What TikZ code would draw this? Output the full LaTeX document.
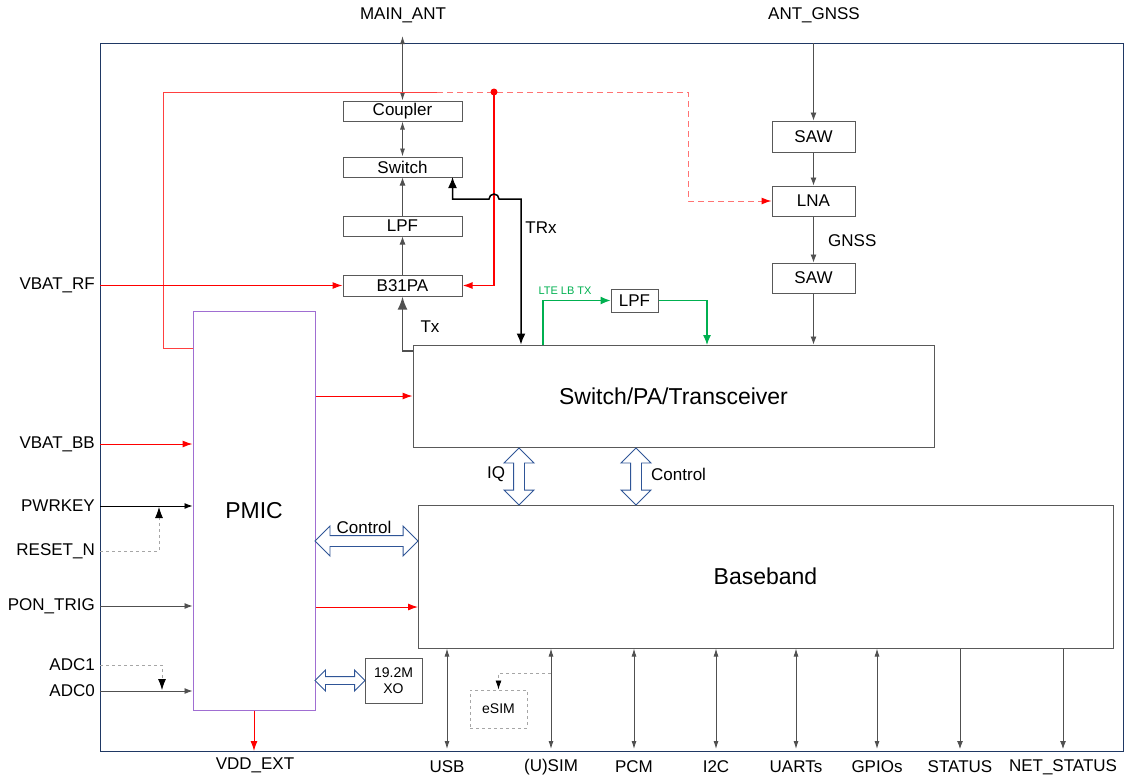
\documentclass[tikz,border=0pt]{standalone}
\usepackage{fontspec}
\setmainfont{Liberation Sans}
\usetikzlibrary{arrows.meta}
\usetikzlibrary{shapes.arrows}

\definecolor{framebl}{RGB}{31,56,100}
\definecolor{boxgray}{RGB}{89,89,89}
\definecolor{linegray}{RGB}{80,80,80}
\definecolor{pmicpurple}{RGB}{160,110,210}
\definecolor{busblue}{RGB}{47,85,151}
\definecolor{pwrred}{RGB}{255,0,0}
\definecolor{ltegreen}{RGB}{0,176,80}

\newcommand{\lblfont}{\fontsize{17}{20}\selectfont}
\newcommand{\bigfont}{\fontsize{23}{27}\selectfont}

\begin{document}
\begin{tikzpicture}[x=1pt,y=-1pt,
  blk/.style={draw=boxgray, fill=white, line width=1pt, inner sep=0pt, font=\lblfont},
  pinlbl/.style={font=\lblfont, inner sep=2pt},
  sig/.style={draw=linegray, line width=0.9pt, -{Latex[length=8pt,width=6pt]}},
  dbl/.style={draw=linegray, line width=0.9pt, {Latex[length=8pt,width=5pt]}-{Latex[length=8pt,width=5pt]}},
  sigdash/.style={draw=gray!70, line width=0.8pt, dashed, -{Latex[length=9pt,width=6pt,color=black]}},
  pwr/.style={draw=pwrred, line width=1pt, -{Latex[length=10pt,width=7pt]}},
  busarrow/.style={double arrow, draw=busblue, fill=white, line width=0.9pt,
    inner xsep=0pt, inner ysep=5pt, double arrow head extend=9.5pt, minimum width=0pt},
  smallbus/.style={busarrow, inner ysep=3.5pt, double arrow head extend=6.5pt}]

  \useasboundingbox (0,0) rectangle (1126,780);

  % module outline
  \draw[framebl, line width=1pt] (100,43) rectangle (1123,751);

  % --- main antenna chain ---
  \node[blk, minimum width=119, minimum height=20] (coupler) at (402.5,111) {Coupler};
  \node[blk, minimum width=119, minimum height=20] (switch) at (402.5,167) {Switch};
  \node[blk, minimum width=119, minimum height=20] (lpf) at (402.5,226) {LPF};
  \node[blk, minimum width=119, minimum height=21] (pa) at (402.5,285.5) {B31PA};

  \coordinate (mainant) at (402.5,36);
  \node[pinlbl] at (403,15) {MAIN\_ANT};
  \draw[dbl] (mainant) -- (coupler.north);
  \draw[dbl] (coupler.south) -- (switch.north);
  \draw[sig] (lpf.north) -- (switch.south);
  \draw[sig] (pa.north) -- (lpf.south);

  % --- GNSS chain ---
  \node[blk, minimum width=83, minimum height=31] (saw1) at (813.5,136.5) {SAW};
  \node[blk, minimum width=83, minimum height=30] (lna) at (813.5,201) {LNA};
  \node[blk, minimum width=83, minimum height=30] (saw2) at (813.5,278) {SAW};

  \coordinate (antgnss) at (813.5,43);
  \node[pinlbl] at (814,15) {ANT\_GNSS};
  \draw[sig] (antgnss) -- (saw1.north);
  \draw[sig] (saw1.south) -- (lna.north);
  \draw[sig] (lna.south) -- (saw2.north);
  \node[pinlbl, anchor=west] at (826,241) {GNSS};

  % --- transceiver, baseband, PMIC ---
  \node[blk, minimum width=521, minimum height=102, font=\bigfont] (trx) at (673.5,396) {Switch/PA/Transceiver};
  \node[blk, minimum width=695, minimum height=143, font=\bigfont] (bb) at (765.5,576.5) {Baseband};
  \node[blk, draw=pmicpurple, minimum width=122, minimum height=399, font=\bigfont] (pmic) at (254,510.5) {PMIC};
  \node[blk, minimum width=57, minimum height=45, font=\fontsize{14}{16}\selectfont, align=center] (xo) at (393.5,680.5) {19.2M\\XO};
  \node[blk, draw=gray!70, dashed, minimum width=57, minimum height=38, font=\fontsize{14}{16}\selectfont] (esim) at (498.5,709) {eSIM};

  \draw[sig] (saw2.south) -- (saw2.south |- trx.north);

  % LTE low band path
  \node[blk, minimum width=47, minimum height=23] (lpftx) at (634.5,300.5) {LPF};
  \coordinate (lteout) at (543,345);
  \coordinate (ltein) at (707,345);
  \draw[draw=ltegreen, line width=1.2pt, -{Latex[length=10pt,width=8pt]}] (lteout) |- (lpftx.west);
  \draw[draw=ltegreen, line width=1.2pt, -{Latex[length=10pt,width=8pt]}] (lpftx.east) -| (ltein);
  \node[font=\fontsize{11}{13}\selectfont, text=ltegreen] at (565,291) {LTE LB TX};

  % --- RF power / coupler feedback (red) ---
  \coordinate (pmicfb) at (193,348);
  \coordinate (fbleft) at (163,92);
  \coordinate (fbsplit) at (437,92);
  \coordinate (rfnode) at (494,92);
  \coordinate (fbturn) at (688,92);
  \draw[draw=pwrred!75, line width=1pt] (pmicfb) -| (fbleft) -- (fbsplit);
  \draw[draw=pwrred!55, line width=1pt, dash pattern=on 6pt off 4pt, -{Latex[length=10pt,width=7pt,color=pwrred]}]
    (fbsplit) -- (fbturn) |- (lna.west);
  \draw[pwr, line width=1.5pt] (rfnode) |- (pa.east);
  \fill[pwrred] (rfnode) circle (3.5);

  \coordinate (vbatrf) at (100,285.5);
  \node[pinlbl, anchor=east] at (97,285) {VBAT\_RF};
  \draw[pwr] (vbatrf) -- (pa.west);

  % TRx and Tx paths
  \coordinate (trxbend) at (521,199);
  \draw[draw=black, line width=1.5pt, {Latex[length=11pt,width=9pt]}-{Latex[length=11pt,width=9pt]}]
    (452.5,177) |- (489,199) arc[start angle=180, end angle=360, radius=5] -- (trxbend) -- (trxbend |- trx.north);
  \node[pinlbl] at (541,228) {TRx};
  \coordinate (txout) at (413,351);
  \draw[draw=linegray, line width=1.8pt, -{Latex[length=13pt,width=10pt]}] (txout) -| (pa.south);
  \node[pinlbl] at (430,327) {Tx};

  % PMIC supplies
  \draw[pwr] (pmic.east |- trx.west) -- (trx.west);
  \coordinate (bbpwr) at (418,607);
  \draw[pwr] (pmic.east |- bbpwr) -- (bbpwr);
  \coordinate (vddext) at (254,751);
  \draw[pwr] (pmic.south) -- (vddext);
  \node[pinlbl] at (255,765) {VDD\_EXT};

  % --- left pins ---
  \coordinate (vbatbb) at (100,444);
  \coordinate (pwrkey) at (100,506);
  \coordinate (resetn) at (100,551);
  \coordinate (pontrig) at (100,606);
  \coordinate (adcone) at (100,665);
  \coordinate (adczero) at (100,691);
  \node[pinlbl, anchor=east] at (97,444) {VBAT\_BB};
  \node[pinlbl, anchor=east] at (97,506) {PWRKEY};
  \node[pinlbl, anchor=east] at (97,551) {RESET\_N};
  \node[pinlbl, anchor=east] at (97,606) {PON\_TRIG};
  \node[pinlbl, anchor=east] at (97,665) {ADC1};
  \node[pinlbl, anchor=east] at (97,691) {ADC0};

  \draw[pwr] (vbatbb) -- (vbatbb -| pmic.west);
  \draw[sig, draw=black] (pwrkey) -- (pwrkey -| pmic.west);
  \draw[sigdash, -{Latex[length=11pt,width=8pt,color=black]}] (resetn) -| (159,507);
  \draw[sig] (pontrig) -- (pontrig -| pmic.west);
  \draw[sigdash, -{Latex[length=11pt,width=8pt,color=black]}] (adcone) -| (162,690);
  \draw[sig] (adczero) -- (adczero -| pmic.west);

  % --- bus arrows ---
  \coordinate (ctlbus) at (366.5,541);
  \node[busarrow, minimum height=103] (pmicctl) at (ctlbus) {};
  \node[pinlbl, inner sep=0pt] at (364,527) {Control};
  \coordinate (xobus) at (340,680.5);
  \node[smallbus, minimum height=50] (xolink) at (xobus) {};
  \coordinate (iqbus) at (519,476.5);
  \node[busarrow, rotate=90, minimum height=57] (iqlink) at (iqbus) {};
  \node[pinlbl] at (496,474) {IQ};
  \coordinate (ctrlbus) at (636,476.5);
  \node[busarrow, rotate=90, minimum height=57] (trxctl) at (ctrlbus) {};
  \node[pinlbl, anchor=west] at (649,474) {Control};

  % --- baseband interfaces ---
  \foreach \x/\lbl in {447/USB,551/(U)SIM,634/PCM,716/I2C,796/UARTs,877/GPIOs} {
    \coordinate (pin\x) at (\x,749);
    \draw[dbl] (pin\x |- bb.south) -- (pin\x);
    \node[pinlbl] at (\x,767) {\lbl};
  }
  \foreach \x/\lbl in {960/STATUS,1063/NET\_STATUS} {
    \coordinate (pin\x) at (\x,749);
    \draw[sig] (pin\x |- bb.south) -- (pin\x);
    \node[pinlbl] at (\x,767) {\lbl};
  }
  \coordinate (simtap) at (551,673);
  \draw[sigdash] (simtap) -| (esim.north);

\end{tikzpicture}
\end{document}
